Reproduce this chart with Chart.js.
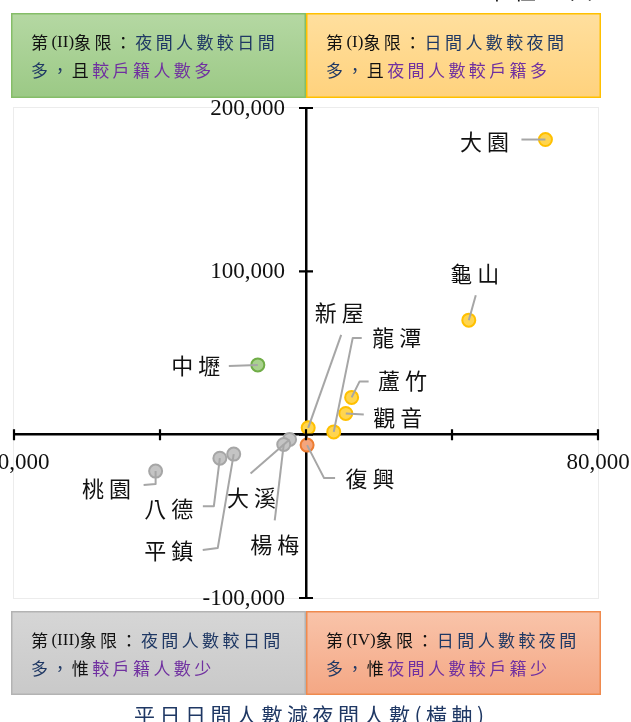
<!doctype html>
<html lang="zh-Hant">
<head>
<meta charset="utf-8">
<title>桃園市各區日夜間人數差異</title>
<script src="https://cdn.jsdelivr.net/npm/chart.js"></script>
<style>
  html, body { margin: 0; padding: 0; background: #fff; }
  #chart { display: block; }
</style>
</head>
<body>
<canvas id="chart" width="631" height="722"></canvas>
<script>
// 行政區
const towns = ['大園', '龜山', '新屋', '龍潭', '蘆竹', '觀音', '中壢', '桃園', '八德', '平鎮', '大溪', '楊梅', '復興'];
// 平日日間人數減夜間人數 (橫軸)
const dayMinusNight = [65600, 44600, 600, 7600, 12500, 10900, -13200, -41200, -23600, -19800, -4500, -6100, 300];
// 夜間人數減戶籍人數 (縱軸)
const nightMinusRegistered = [180700, 70100, 4200, 1700, 22800, 13000, 42700, -22300, -14400, -11900, -2900, -6000, -6400];
// 顯示的刻度標籤
const xTickValues = [-80000, 80000];
const yTickValues = [200000, 100000, -100000];

// 標籤位置 (相對於資料點的像素位移) 與引線折點
const labelLayout = {
  '大園': { text: [-61, 2], path: [[0, 0], [-24, 0]] },
  '龜山': { text: [6, -47], path: [[0, 0], [7, -25]] },
  '新屋': { text: [31, -115], path: [[0, 0], [33, -93]] },
  '龍潭': { text: [63, -94], path: [[0, 0], [19, -94], [28, -94]] },
  '蘆竹': { text: [51, -17], path: [[0, 0], [8, -16], [17, -16]] },
  '觀音': { text: [52, 4], path: [[0, 0], [18, 1]] },
  '中壢': { text: [-62, 1], path: [[0, 0], [-29, 1]] },
  '桃園': { text: [-49, 18], path: [[0, 0], [0, 13], [-12, 14]] },
  '八德': { text: [-51, 50], path: [[0, 0], [-6, 48], [-17, 48]] },
  '平鎮': { text: [-65, 97], path: [[0, 0], [-16, 94], [-31, 96]] },
  '大溪': { text: [-38, 58], path: [[0, 0], [-39, 34]] },
  '楊梅': { text: [-9, 100], path: [[0, 0], [-9, 76]] },
  '復興': { text: [63, 34], path: [[0, 0], [17, 33], [28, 33]] }
};

const CJK = '"Noto Sans CJK TC", "Noto Sans CJK SC", sans-serif';
const SERIF = '"Liberation Serif", "DejaVu Serif", serif';
const BLUE = '#1f3864';
const PURPLE = '#7030a0';
const BLACK = '#111';

const quadrants = {
  I:   { fill: '#ffd54f', stroke: '#ffc000' },
  II:  { fill: '#a9d18e', stroke: '#70ad47' },
  III: { fill: '#c4c4c4', stroke: '#a6a6a6' },
  IV:  { fill: '#f4a57c', stroke: '#ed7d31' }
};

function quadrantOf(x, y) {
  if (x >= 0 && y >= 0) return 'I';
  if (x < 0 && y >= 0) return 'II';
  if (x < 0) return 'III';
  return 'IV';
}

const datasets = Object.keys(quadrants).map(q => {
  const pts = [];
  towns.forEach((name, i) => {
    if (quadrantOf(dayMinusNight[i], nightMinusRegistered[i]) === q) {
      pts.push({ x: dayMinusNight[i], y: nightMinusRegistered[i], name: name });
    }
  });
  return {
    label: '第(' + q + ')象限',
    data: pts,
    backgroundColor: quadrants[q].fill,
    borderColor: quadrants[q].stroke,
    borderWidth: 2,
    pointRadius: 6.5
  };
});

function fmt(v) {
  return v.toLocaleString('en-US');
}

// 逐字繪製 (可設字距)
function drawRich(ctx, x, y, parts) {
  parts.forEach(p => {
    ctx.font = p.font;
    ctx.fillStyle = p.color;
    for (const ch of p.text) {
      ctx.fillText(ch, x, y);
      x += ctx.measureText(ch).width + p.gap;
    }
  });
}

function spacedWidth(ctx, text, gap) {
  let w = 0;
  for (const ch of text) w += ctx.measureText(ch).width + gap;
  return w - gap;
}

function cj(text, color) { return { text: text, color: color, font: '17px ' + CJK, gap: 3.4 }; }
function lat(text, color) { return { text: text, color: color, font: '17px ' + SERIF, gap: 0 }; }

const boxTexts = {
  tl: [[cj('第', BLACK), lat('(II)', BLACK), cj('象限：', BLACK), cj('夜間人數較日間', BLUE)],
       [cj('多，', BLUE), cj('且', BLACK), cj('較戶籍人數多', PURPLE)]],
  tr: [[cj('第', BLACK), lat('(I)', BLACK), cj('象限：', BLACK), cj('日間人數較夜間', BLUE)],
       [cj('多，', BLUE), cj('且', BLACK), cj('夜間人數較戶籍多', PURPLE)]],
  bl: [[cj('第', BLACK), lat('(III)', BLACK), cj('象限：', BLACK), cj('夜間人數較日間', BLUE)],
       [cj('多，', BLUE), cj('惟', BLACK), cj('較戶籍人數少', PURPLE)]],
  br: [[cj('第', BLACK), lat('(IV)', BLACK), cj('象限：', BLACK), cj('日間人數較夜間', BLUE)],
       [cj('多，', BLUE), cj('惟', BLACK), cj('夜間人數較戶籍少', PURPLE)]]
};

function drawBox(ctx, x1, y1, x2, y2, c1, c2, border, lines) {
  const g = ctx.createLinearGradient(0, y1, 0, y2);
  g.addColorStop(0, c1);
  g.addColorStop(1, c2);
  ctx.fillStyle = g;
  ctx.fillRect(x1, y1, x2 - x1, y2 - y1);
  ctx.strokeStyle = border;
  ctx.lineWidth = 1.5;
  ctx.strokeRect(x1 + 0.75, y1 + 0.75, x2 - x1 - 1.5, y2 - y1 - 1.5);
  ctx.textBaseline = 'middle';
  ctx.textAlign = 'left';
  drawRich(ctx, x1 + 20, y1 + 30, lines[0]);
  drawRich(ctx, x1 + 20, y1 + 58, lines[1]);
}

const decor = {
  id: 'decor',
  beforeDraw(chart) {
    const ctx = chart.ctx;
    const ca = chart.chartArea;
    const x0 = chart.scales.x.getPixelForValue(0);
    ctx.save();
    ctx.fillStyle = '#fff';
    ctx.fillRect(0, 0, chart.width, chart.height);

    // 單位 (上方被裁切)
    ctx.textBaseline = 'alphabetic';
    ctx.textAlign = 'left';
    drawRich(ctx, 486, -1, [{ text: '單位：人', color: BLACK, font: '22px ' + CJK, gap: 6 }]);

    // 象限說明框
    const L = ca.left - 3, R = ca.right + 3;
    drawBox(ctx, L, ca.top - 95, x0, ca.top - 10, '#b5d8a3', '#9bc985', '#85bd68', boxTexts.tl);
    drawBox(ctx, x0, ca.top - 95, R, ca.top - 10, '#ffdf9e', '#ffd27d', '#ffc000', boxTexts.tr);
    drawBox(ctx, L, ca.bottom + 13, x0, ca.bottom + 97, '#d6d6d6', '#c9c9c9', '#b3b3b3', boxTexts.bl);
    drawBox(ctx, x0, ca.bottom + 13, R, ca.bottom + 97, '#f9c4aa', '#f4a784', '#ef8a4e', boxTexts.br);

    // 繪圖區外框
    ctx.strokeStyle = '#ececec';
    ctx.lineWidth = 1;
    ctx.strokeRect(ca.left - 0.5, ca.top - 0.5, ca.right - ca.left + 1, ca.bottom - ca.top + 1);

    // 橫軸標題
    ctx.font = '21px ' + CJK;
    ctx.textBaseline = 'middle';
    const title = '平日日間人數減夜間人數(橫軸)';
    const tw = spacedWidth(ctx, title, 4.5);
    drawRich(ctx, (ca.left + ca.right) / 2 + 3 - tw / 2, ca.bottom + 117, [{ text: title, color: BLUE, font: '21px ' + CJK, gap: 4.5 }]);
    ctx.restore();
  },
  afterDatasetsDraw(chart) {
    const ctx = chart.ctx;
    const xs = chart.scales.x, ys = chart.scales.y;
    const x0 = xs.getPixelForValue(0), y0 = ys.getPixelForValue(0);
    ctx.save();

    // 交叉刻度線
    ctx.strokeStyle = '#000';
    ctx.lineWidth = 2.2;
    ctx.beginPath();
    for (let v = xs.min; v <= xs.max; v += 40000) {
      const px = xs.getPixelForValue(v);
      ctx.moveTo(px, y0 - 5.5);
      ctx.lineTo(px, y0 + 5.5);
    }
    for (let v = ys.min; v <= ys.max; v += 100000) {
      const py = ys.getPixelForValue(v);
      ctx.moveTo(x0 - 7, py);
      ctx.lineTo(x0 + 7, py);
    }
    ctx.stroke();

    // 縱軸刻度標籤 (置於縱軸左側)
    ctx.font = '23px ' + SERIF;
    ctx.fillStyle = '#111';
    ctx.textAlign = 'right';
    ctx.textBaseline = 'middle';
    yTickValues.forEach(v => {
      ctx.fillText(fmt(v), x0 - 21, ys.getPixelForValue(v) + 1);
    });

    // 引線與資料標籤
    ctx.strokeStyle = '#a6a6a6';
    ctx.lineWidth = 2;
    ctx.lineJoin = 'round';
    ctx.font = '22px ' + CJK;
    ctx.fillStyle = '#111';
    ctx.textAlign = 'center';
    chart.data.datasets.forEach(ds => {
      ds.data.forEach(p => {
        const lay = labelLayout[p.name];
        const px = xs.getPixelForValue(p.x), py = ys.getPixelForValue(p.y);
        ctx.beginPath();
        lay.path.forEach((o, k) => {
          if (k === 0) ctx.moveTo(px + o[0], py + o[1]);
          else ctx.lineTo(px + o[0], py + o[1]);
        });
        ctx.stroke();
        const chars = Array.from(p.name);
        const pitch = 27;
        chars.forEach((ch, k) => {
          ctx.fillText(ch, px + lay.text[0] + (k - (chars.length - 1) / 2) * pitch, py + lay.text[1]);
        });
      });
    });
    ctx.restore();
  }
};

const tickFont = { family: SERIF, size: 23 };

new Chart(document.getElementById('chart'), {
  type: 'scatter',
  data: { datasets: datasets },
  plugins: [decor],
  options: {
    responsive: false,
    animation: false,
    events: [],
    layout: { padding: { left: 14, right: 33, top: 108, bottom: 124 } },
    plugins: {
      legend: { display: false },
      tooltip: { enabled: false }
    },
    scales: {
      x: {
        type: 'linear',
        min: -80000,
        max: 80000,
        position: { y: 0 },
        afterFit: s => { s.paddingLeft = 0; s.paddingRight = 0; },
        grid: { display: true, drawOnChartArea: false, drawTicks: false },
        border: { display: true, color: '#000', width: 2.5 },
        ticks: {
          stepSize: 40000,
          autoSkip: false,
          maxRotation: 0,
          padding: 14,
          color: '#111',
          font: tickFont,
          callback: v => xTickValues.includes(v) ? fmt(v) : ''
        }
      },
      y: {
        type: 'linear',
        min: -100000,
        max: 200000,
        position: { x: 0 },
        afterFit: s => { s.paddingTop = 0; s.paddingBottom = 0; },
        grid: { display: true, drawOnChartArea: false, drawTicks: false },
        border: { display: true, color: '#000', width: 2.5 },
        ticks: {
          stepSize: 100000,
          display: false
        }
      }
    }
  }
});
</script>
</body>
</html>
